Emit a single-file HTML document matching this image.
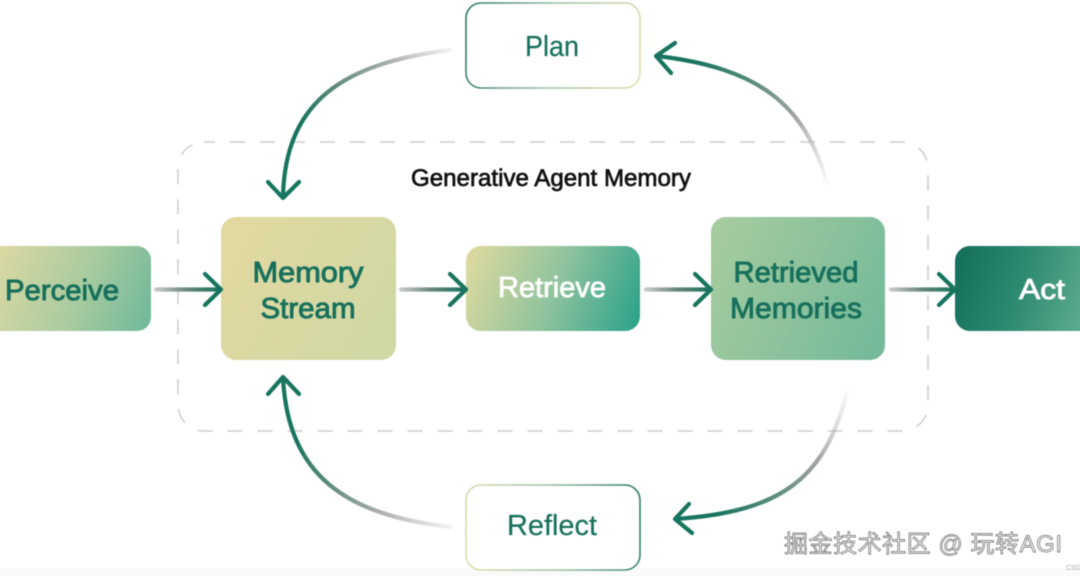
<!DOCTYPE html>
<html>
<head>
<meta charset="utf-8">
<style>
html,body{margin:0;padding:0;background:#fff}
body{width:1080px;height:576px;overflow:hidden;position:relative}
svg{position:absolute;left:0;top:0}
#all{filter:blur(.5px)}
text{font-family:"Liberation Sans","Noto Sans CJK SC",sans-serif}
</style>
</head>
<body>
<svg width="1080" height="576" viewBox="0 0 1080 576" xmlns="http://www.w3.org/2000/svg">
<defs>
<linearGradient id="perc" gradientUnits="userSpaceOnUse" x1="-10" y1="265" x2="150" y2="325"><stop offset="0" stop-color="#dcd9a3"/><stop offset=".55" stop-color="#a9cba0"/><stop offset="1" stop-color="#70b99a"/></linearGradient>
<linearGradient id="mem" gradientUnits="userSpaceOnUse" x1="221" y1="240" x2="396" y2="340"><stop offset="0" stop-color="#e2d9a1"/><stop offset="1" stop-color="#d0d8a4"/></linearGradient>
<linearGradient id="retr" gradientUnits="userSpaceOnUse" x1="470" y1="255" x2="640" y2="320"><stop offset="0" stop-color="#dcd99f"/><stop offset=".5" stop-color="#8fc39e"/><stop offset="1" stop-color="#2ca28a"/></linearGradient>
<linearGradient id="rm" gradientUnits="userSpaceOnUse" x1="711" y1="250" x2="886" y2="330"><stop offset="0" stop-color="#a5cb9f"/><stop offset="1" stop-color="#75ba9a"/></linearGradient>
<linearGradient id="act" gradientUnits="userSpaceOnUse" x1="955" y1="270" x2="1085" y2="310"><stop offset="0" stop-color="#14705c"/><stop offset=".5" stop-color="#2f8a72"/><stop offset="1" stop-color="#5aab8d"/></linearGradient>
<linearGradient id="plan" gradientUnits="userSpaceOnUse" x1="466" y1="30" x2="640" y2="60"><stop offset="0" stop-color="#2f7c66"/><stop offset=".5" stop-color="#9dbfa5"/><stop offset="1" stop-color="#dcdcae"/></linearGradient>
<linearGradient id="refl" gradientUnits="userSpaceOnUse" x1="466" y1="540" x2="640" y2="510"><stop offset="0" stop-color="#dcdcae"/><stop offset=".5" stop-color="#9dbfa5"/><stop offset="1" stop-color="#2f7c66"/></linearGradient>
<linearGradient id="a1" gradientUnits="userSpaceOnUse" x1="452" y1="50" x2="284" y2="170"><stop offset="0" stop-color="#c4c4c4" stop-opacity=".2"/><stop offset=".25" stop-color="#b5b5b5"/><stop offset=".55" stop-color="#5f8a7c"/><stop offset=".8" stop-color="#17745e"/></linearGradient>
<linearGradient id="a2" gradientUnits="userSpaceOnUse" x1="827" y1="185" x2="660" y2="58"><stop offset="0" stop-color="#ccc" stop-opacity=".1"/><stop offset=".3" stop-color="#a5a5a5"/><stop offset=".6" stop-color="#558a79"/><stop offset=".85" stop-color="#17745e"/></linearGradient>
<linearGradient id="a3" gradientUnits="userSpaceOnUse" x1="848" y1="392" x2="680" y2="520"><stop offset="0" stop-color="#ccc" stop-opacity=".1"/><stop offset=".3" stop-color="#a5a5a5"/><stop offset=".6" stop-color="#558a79"/><stop offset=".85" stop-color="#17745e"/></linearGradient>
<linearGradient id="a4" gradientUnits="userSpaceOnUse" x1="452" y1="526" x2="284" y2="385"><stop offset="0" stop-color="#c4c4c4" stop-opacity=".2"/><stop offset=".25" stop-color="#b5b5b5"/><stop offset=".55" stop-color="#5f8a7c"/><stop offset=".8" stop-color="#17745e"/></linearGradient>
<linearGradient id="h1" gradientUnits="userSpaceOnUse" x1="154" y1="0" x2="220" y2="0"><stop offset="0" stop-color="#ccc"/><stop offset=".5" stop-color="#66857b"/><stop offset="1" stop-color="#17745e"/></linearGradient>
<linearGradient id="h2" gradientUnits="userSpaceOnUse" x1="399" y1="0" x2="465" y2="0"><stop offset="0" stop-color="#ccc"/><stop offset=".5" stop-color="#66857b"/><stop offset="1" stop-color="#17745e"/></linearGradient>
<linearGradient id="h3" gradientUnits="userSpaceOnUse" x1="644" y1="0" x2="710" y2="0"><stop offset="0" stop-color="#ccc"/><stop offset=".5" stop-color="#66857b"/><stop offset="1" stop-color="#17745e"/></linearGradient>
<linearGradient id="h4" gradientUnits="userSpaceOnUse" x1="889" y1="0" x2="955" y2="0"><stop offset="0" stop-color="#ccc"/><stop offset=".5" stop-color="#66857b"/><stop offset="1" stop-color="#17745e"/></linearGradient>
</defs>

<g id="all">
<rect x="-10" y="568" width="1100" height="18" fill="#fafafa"/>

<rect x="178" y="142" width="750" height="289" rx="26" fill="none" stroke="#cccccc" stroke-width="1.5" stroke-dasharray="15 15" stroke-dashoffset="4"/>

<path d="M-20 246H137a14 14 0 0 1 14 14V317a14 14 0 0 1-14 14H-20Z" fill="url(#perc)"/>
<rect x="221" y="217" width="175" height="143" rx="15" fill="url(#mem)"/>
<rect x="466" y="246" width="174" height="85" rx="15" fill="url(#retr)"/>
<rect x="711" y="217" width="174" height="143" rx="15" fill="url(#rm)"/>
<path d="M1100 246H970a15 15 0 0 0-15 15V316a15 15 0 0 0 15 15H1100Z" fill="url(#act)"/>
<rect x="466" y="3" width="174" height="85" rx="15" fill="#fff" stroke="url(#plan)" stroke-width="1.6"/>
<rect x="466" y="485" width="174" height="85" rx="15" fill="#fff" stroke="url(#refl)" stroke-width="1.6"/>

<g fill="none" stroke-width="4.2" stroke-linecap="round" stroke-linejoin="round">
<path d="M156 289.500H219" stroke="url(#h1)"/>
<path d="M401 289.500H464" stroke="url(#h2)"/>
<path d="M646 289.500H709" stroke="url(#h3)"/>
<path d="M891 289.500H954" stroke="url(#h4)"/>
<path d="M205 274L221 289.500L205 305M450 274L466 289.500L450 305M695 274L711 289.500L695 305M939 274L955 289.500L939 305" stroke="#17745e"/>

<path d="M450 50C345 63 285 100 283 197" stroke="url(#a1)"/>
<path d="M268 182L283 198L299 182" stroke="#17745e"/>

<path d="M827 183C805 105 760 68 657 56" stroke="url(#a2)"/>
<path d="M675 43L656 56L671 73" stroke="#17745e"/>

<path d="M847 392C825 480 780 512 675 519" stroke="url(#a3)"/>
<path d="M689 504L675 519L692 533" stroke="#17745e"/>

<path d="M450 527C345 515 288 475 283 378" stroke="url(#a4)"/>
<path d="M268 394L283 377L299 394" stroke="#17745e"/>
</g>

<g text-anchor="middle" fill="#17705c" font-size="29" stroke="#17705c" stroke-width=".9">
<text x="62" y="300" textLength="114" lengthAdjust="spacingAndGlyphs">Perceive</text>
<text x="308" y="282" textLength="111" lengthAdjust="spacingAndGlyphs">Memory</text>
<text x="308" y="318" textLength="95" lengthAdjust="spacingAndGlyphs">Stream</text>
<text x="796" y="282" textLength="125" lengthAdjust="spacingAndGlyphs">Retrieved</text>
<text x="796" y="318" textLength="132" lengthAdjust="spacingAndGlyphs">Memories</text>
</g>
<text x="552" y="297" text-anchor="middle" fill="#fff" stroke="#fff" stroke-width=".8" font-size="29" textLength="108" lengthAdjust="spacingAndGlyphs">Retrieve</text>
<text x="1042" y="299" text-anchor="middle" fill="#fff" stroke="#fff" stroke-width=".8" font-size="29" textLength="46" lengthAdjust="spacingAndGlyphs">Act</text>
<text x="552" y="56" text-anchor="middle" fill="#17705c" stroke="#17705c" stroke-width=".2" font-size="29" textLength="54" lengthAdjust="spacingAndGlyphs">Plan</text>
<text x="552" y="535" text-anchor="middle" fill="#17705c" stroke="#17705c" stroke-width=".2" font-size="29" textLength="90" lengthAdjust="spacingAndGlyphs">Reflect</text>
<text x="551" y="186" text-anchor="middle" fill="#111" stroke="#111" stroke-width=".7" font-size="24" textLength="280" lengthAdjust="spacingAndGlyphs">Generative Agent Memory</text>

<text x="784" y="552" fill="#f4f4f4" stroke="#6a6a6a" stroke-width=".7" font-size="24" textLength="278" lengthAdjust="spacing">掘金技术社区 @ 玩转AGI</text>
<text x="1066" y="570" fill="#aaa" font-size="7">CSDN</text>
</g>
</svg>
</body>
</html>
